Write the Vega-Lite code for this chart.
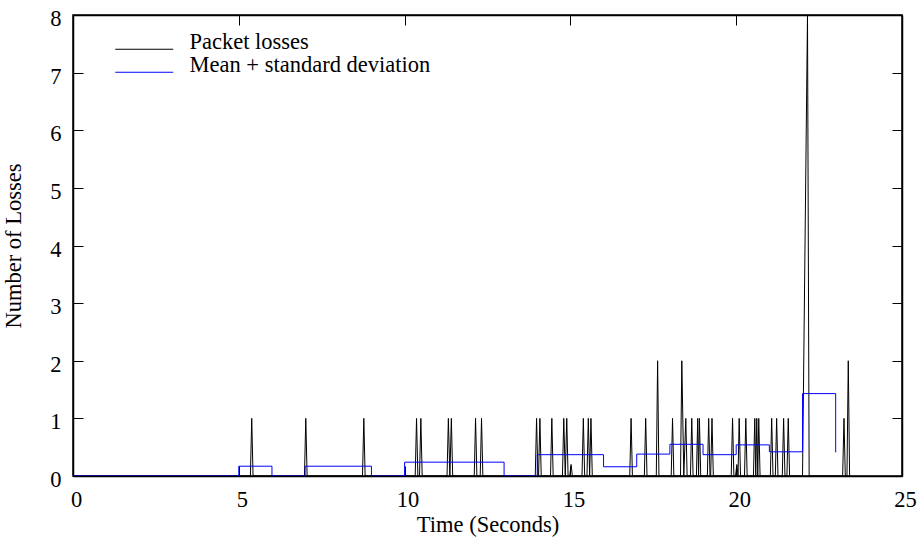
{
  "$schema": "https://vega.github.io/schema/vega-lite/v6.json",
  "width": 829,
  "height": 461,
  "autosize": "none",
  "padding": {"left": 73, "top": 15, "right": 20, "bottom": 66},
  "background": "white",
  "datasets": {
    "losses": [
      {"t": 0, "v": 0},
      {"t": 5.35, "v": 0}, {"t": 5.39, "v": 1}, {"t": 5.43, "v": 0},
      {"t": 6.98, "v": 0}, {"t": 7.02, "v": 1}, {"t": 7.06, "v": 0},
      {"t": 8.73, "v": 0}, {"t": 8.77, "v": 1}, {"t": 8.81, "v": 0},
      {"t": 10.32, "v": 0}, {"t": 10.36, "v": 1}, {"t": 10.40, "v": 0},
      {"t": 10.45, "v": 0}, {"t": 10.49, "v": 1}, {"t": 10.53, "v": 0},
      {"t": 11.28, "v": 0}, {"t": 11.32, "v": 1}, {"t": 11.365, "v": 0}, {"t": 11.41, "v": 1}, {"t": 11.45, "v": 0},
      {"t": 12.10, "v": 0}, {"t": 12.14, "v": 1}, {"t": 12.18, "v": 0},
      {"t": 12.28, "v": 0}, {"t": 12.32, "v": 1}, {"t": 12.36, "v": 0},
      {"t": 13.94, "v": 0}, {"t": 13.98, "v": 1}, {"t": 14.02, "v": 0},
      {"t": 14.04, "v": 0}, {"t": 14.08, "v": 1}, {"t": 14.12, "v": 0},
      {"t": 14.40, "v": 0}, {"t": 14.44, "v": 1}, {"t": 14.48, "v": 0},
      {"t": 14.76, "v": 0}, {"t": 14.80, "v": 1}, {"t": 14.845, "v": 0}, {"t": 14.89, "v": 1}, {"t": 14.93, "v": 0},
      {"t": 14.98, "v": 0}, {"t": 15.02, "v": 0.2}, {"t": 15.06, "v": 0},
      {"t": 15.35, "v": 0}, {"t": 15.39, "v": 1}, {"t": 15.43, "v": 0},
      {"t": 15.50, "v": 0}, {"t": 15.54, "v": 1}, {"t": 15.58, "v": 0}, {"t": 15.62, "v": 1}, {"t": 15.66, "v": 0},
      {"t": 16.79, "v": 0}, {"t": 16.83, "v": 1}, {"t": 16.87, "v": 0},
      {"t": 17.23, "v": 0}, {"t": 17.27, "v": 1}, {"t": 17.31, "v": 0},
      {"t": 17.59, "v": 0}, {"t": 17.63, "v": 2}, {"t": 17.67, "v": 0},
      {"t": 18.04, "v": 0}, {"t": 18.08, "v": 1}, {"t": 18.12, "v": 0},
      {"t": 18.32, "v": 0}, {"t": 18.36, "v": 2}, {"t": 18.42, "v": 0}, {"t": 18.48, "v": 1}, {"t": 18.52, "v": 0},
      {"t": 18.62, "v": 0}, {"t": 18.66, "v": 1}, {"t": 18.70, "v": 0},
      {"t": 18.80, "v": 0}, {"t": 18.84, "v": 1}, {"t": 18.865, "v": 0}, {"t": 18.89, "v": 1}, {"t": 18.93, "v": 0},
      {"t": 19.13, "v": 0}, {"t": 19.17, "v": 1}, {"t": 19.21, "v": 0},
      {"t": 19.23, "v": 0}, {"t": 19.27, "v": 1}, {"t": 19.31, "v": 0},
      {"t": 19.85, "v": 0}, {"t": 19.89, "v": 1}, {"t": 19.93, "v": 0},
      {"t": 19.98, "v": 0}, {"t": 20.02, "v": 0.2}, {"t": 20.055, "v": 0}, {"t": 20.09, "v": 1}, {"t": 20.13, "v": 0},
      {"t": 20.25, "v": 0}, {"t": 20.29, "v": 1}, {"t": 20.33, "v": 0},
      {"t": 20.52, "v": 0}, {"t": 20.56, "v": 1}, {"t": 20.59, "v": 0}, {"t": 20.62, "v": 1}, {"t": 20.65, "v": 0}, {"t": 20.68, "v": 1}, {"t": 20.72, "v": 0},
      {"t": 21.03, "v": 0}, {"t": 21.07, "v": 1}, {"t": 21.11, "v": 0},
      {"t": 21.18, "v": 0}, {"t": 21.22, "v": 1}, {"t": 21.26, "v": 0},
      {"t": 21.39, "v": 0}, {"t": 21.43, "v": 1}, {"t": 21.47, "v": 0},
      {"t": 21.53, "v": 0}, {"t": 21.57, "v": 1}, {"t": 21.61, "v": 0},
      {"t": 22.00, "v": 0}, {"t": 22.15, "v": 8}, {"t": 22.20, "v": 0},
      {"t": 23.21, "v": 0}, {"t": 23.25, "v": 1}, {"t": 23.29, "v": 0},
      {"t": 23.34, "v": 0}, {"t": 23.38, "v": 2}, {"t": 23.42, "v": 0}
    ],
    "meanstd": [
      {"t": 0, "v": 0},
      {"t": 5, "v": 0.17},
      {"t": 6, "v": 0},
      {"t": 7, "v": 0.17},
      {"t": 9, "v": 0},
      {"t": 10, "v": 0.24},
      {"t": 13, "v": 0},
      {"t": 14, "v": 0.37},
      {"t": 16, "v": 0.16},
      {"t": 17, "v": 0.38},
      {"t": 18, "v": 0.55},
      {"t": 19, "v": 0.37},
      {"t": 20, "v": 0.54},
      {"t": 21, "v": 0.42},
      {"t": 22, "v": 1.43},
      {"t": 23, "v": 0.41}
    ]
  },
  "layer": [
    {
      "data": {"name": "losses"},
      "transform": [{"calculate": "'Packet losses'", "as": "series"}],
      "mark": {"type": "line", "strokeWidth": 1, "clip": true},
      "encoding": {
        "x": {
          "field": "t", "type": "quantitative",
          "scale": {"domain": [0, 25], "nice": false, "zero": false},
          "axis": {
            "orient": "bottom", "title": "Time (Seconds)", "values": [0, 5, 10, 15, 20, 25],
            "tickSize": -10, "labelPadding": 22, "titlePadding": 3,
            "labelFlush": false, "labelOffset": 3
          }
        },
        "y": {
          "field": "v", "type": "quantitative",
          "scale": {"domain": [0, 8], "nice": false},
          "axis": {
            "orient": "left", "title": "Number of Losses", "values": [0, 1, 2, 3, 4, 5, 6, 7, 8],
            "tickSize": -10, "labelPadding": 22, "titlePadding": 24,
            "labelFlush": false, "labelOffset": 3.5
          }
        },
        "color": {
          "field": "series", "type": "nominal",
          "scale": {"domain": ["Packet losses", "Mean + standard deviation"], "range": ["#000000", "#0000ff"]},
          "legend": {
            "orient": "none", "legendX": 60, "legendY": 23, "title": null,
            "symbolType": "M-3,0L3,0", "symbolSize": 373, "symbolStrokeWidth": 1,
            "labelFont": "Liberation Serif", "labelFontSize": 22.5, "labelColor": "#000000",
            "labelBaseline": "alphabetic", "labelLimit": 0,
            "labelOffset": 34, "rowPadding": 0, "padding": 0,
            "encode": {
              "symbols": {"update": {"stroke": {"scale": "color", "field": "value"}}}
            }
          }
        }
      }
    },
    {
      "data": {"name": "meanstd"},
      "transform": [{"calculate": "'Mean + standard deviation'", "as": "series"}],
      "mark": {"type": "line", "strokeWidth": 1, "interpolate": "step-after", "clip": true},
      "encoding": {
        "x": {
          "field": "t", "type": "quantitative",
          "axis": {"orient": "top", "title": null, "labels": false, "values": [0, 5, 10, 15, 20, 25], "tickSize": -10}
        },
        "y": {
          "field": "v", "type": "quantitative",
          "axis": {"orient": "right", "title": null, "labels": false, "values": [0, 1, 2, 3, 4, 5, 6, 7, 8], "tickSize": -10}
        },
        "color": {"field": "series", "type": "nominal"}
      }
    }
  ],
  "resolve": {"axis": {"x": "independent", "y": "independent"}},
  "config": {
    "view": {"stroke": "#000000", "strokeWidth": 1.5},
    "axis": {
      "grid": false,
      "domainColor": "#000000",
      "domainWidth": 1.5,
      "tickColor": "#000000",
      "tickWidth": 1,
      "labelFont": "Liberation Serif",
      "labelFontSize": 22.5,
      "labelColor": "#000000",
      "titleFont": "Liberation Serif",
      "titleFontSize": 22.5,
      "titleFontWeight": "normal",
      "titleColor": "#000000"
    }
  }
}
